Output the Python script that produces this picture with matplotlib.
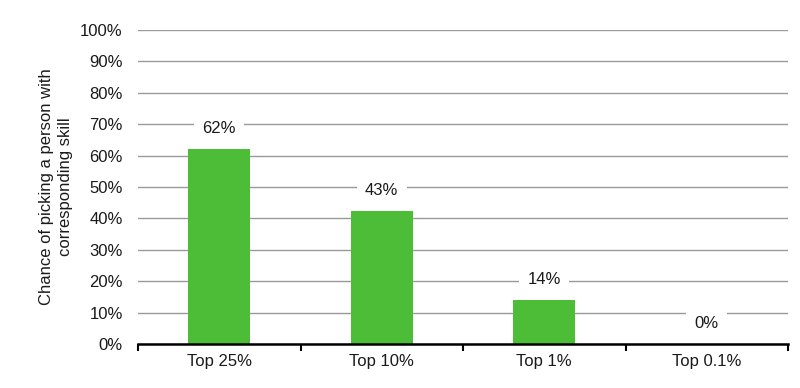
import numpy as np
import matplotlib.pyplot as plt
from matplotlib.ticker import PercentFormatter, FixedLocator

# data
categories = ['Top 25%', 'Top 10%', 'Top 1%', 'Top 0.1%']
chances = [0.62, 0.425, 0.14, 0.0]
labels = ['62%', '43%', '14%', '0%']
yticks = np.arange(0, 1.01, 0.1)

plt.rcParams['font.family'] = ['Liberation Sans', 'DejaVu Sans']

fig = plt.figure(figsize=(8, 3.88), dpi=100)
ax = fig.add_axes([0.1725, 0.1134, 0.8125, 0.8093])

x = np.arange(len(categories))
ax.bar(x, chances, width=0.38, color='#4dbd37', zorder=3)

# value labels with white boxes that cut the gridlines
for xi, v, lab in zip(x, chances, labels):
    ax.text(xi, v + 0.065, lab, ha='center', va='center', fontsize=12,
            color='#1a1a1a', zorder=4,
            bbox=dict(facecolor='white', edgecolor='none', pad=6))

ax.set_xlim(-0.5, len(categories) - 0.5)
ax.set_ylim(0, 1)
ax.set_yticks(yticks)
ax.yaxis.set_major_formatter(PercentFormatter(1.0, decimals=0))
ax.yaxis.grid(True, color='#999999', linewidth=1, zorder=0)
ax.set_axisbelow(True)

ax.set_xticks(x)
ax.set_xticklabels(categories)
ax.xaxis.set_minor_locator(FixedLocator(np.arange(-0.5, len(categories), 1.0)))
ax.tick_params(axis='x', which='major', length=0, pad=7, labelsize=12, labelcolor='#1a1a1a')
ax.tick_params(axis='x', which='minor', length=5, width=1.5, color='black', direction='out')
ax.tick_params(axis='y', length=0, pad=11, labelsize=12, labelcolor='#1a1a1a')

for s in ['top', 'right', 'left']:
    ax.spines[s].set_visible(False)
ax.spines['bottom'].set_linewidth(1.8)
ax.spines['bottom'].set_zorder(5)

ax.set_ylabel('Chance of picking a person with\ncorresponding skill',
              fontsize=12, color='#1a1a1a', labelpad=5, linespacing=1.35)

fig.savefig('out.png', dpi=100)
